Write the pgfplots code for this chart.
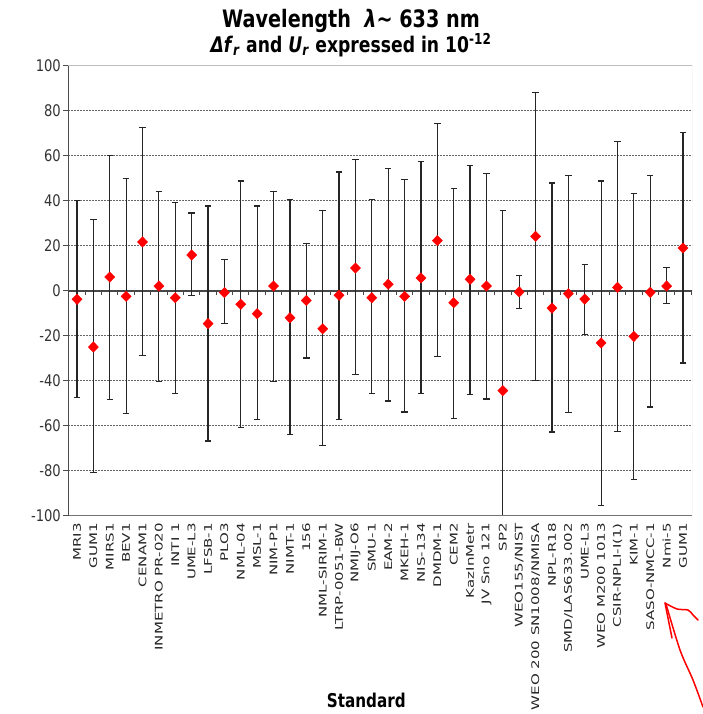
\documentclass[border=0pt]{standalone}
\usepackage{pgfplots}
\pgfplotsset{compat=1.18}
\usepackage{fontspec}
\setmainfont{DejaVu Sans}
\newfontfamily\tfont[FakeStretch=0.8]{DejaVu Sans}
\newfontfamily\yfont[FakeStretch=0.82]{DejaVu Sans}
\newfontfamily\xfont[FakeStretch=1.43]{DejaVu Sans}
\begin{document}
\begin{tikzpicture}
\useasboundingbox (0,0) rectangle (703pt,714pt);
\begin{axis}[
  at={(68pt,198pt)}, anchor=south west,
  scale only axis, width=624pt, height=450pt,
  xmin=-0.55, xmax=37.55, ymin=-100, ymax=100,
  axis line style={draw=none},
  xtick={0,...,37},
  xticklabels={MRI3,GUM1,MIRS1,BEV1,CENAM1,INMETRO PR-020,INTI 1,UME-L3,LFSB-1,PLO3,NML-04,MSL-1,NIM-P1,NIMT-1,156,NML-SIRIM-1,LTRP-0051-BW,NMIJ-O6,SMU-1,EAM-2,MKEH-1,NIS-134,DMDM-1,CEM2,KazInMetr,JV Sno 121,SP2,WEO155/NIST,WEO 200 SN1008/NMISA,NPL-R18,SMD/LAS633.002,UME-L3,WEO M200 1013,CSIR-NPLI-I(1),KIM-1,SASO-NMCC-1,Nmi-5,GUM1},
  xticklabel style={rotate=90, anchor=east, font=\xfont\fontsize{10.5}{12}\selectfont, text=black!85, inner sep=2pt},
  xtick style={draw=none},
  xtick pos=bottom, ytick pos=left,
  ytick={-80,-60,...,80},
  extra y ticks={-100,100},
  extra y tick style={grid=none},
  /pgf/number format/assume math mode=true,
  yticklabel style={font=\yfont\fontsize{16}{16}\selectfont, text=black!80, inner sep=2pt},
  ytick style={black!70, line width=1pt},
  tick align=outside, major tick length=5pt,
  ymajorgrids,
  grid style={black!60, dash pattern=on 2pt off 1pt, line width=1pt},
  xlabel={Standard},
  xlabel style={at={(axis description cs:0.478,-0.409)}, anchor=center, inner sep=0pt, font=\tfont\bfseries\fontsize{19}{19}\selectfont},
  title={Wavelength\ \ \textit{λ}\textasciitilde\ 633 nm\\ {\fontsize{21.5}{20}\selectfont\textit{Δf}\textsubscript{\textit{r}} and \textit{U}\textsubscript{\textit{r}} expressed in 10\textsuperscript{-12}}},
  title style={at={(axis description cs:0.4535,1.060)}, anchor=center, align=center, inner sep=0pt, font=\tfont\bfseries\fontsize{24}{21}\selectfont},
]
\draw[black!72, line width=1.3pt] (axis cs:-0.55,0) -- (axis cs:37.55,0);
\pgfplotsinvokeforeach{-0.5,0.5,...,37.5}{\draw[black!72, line width=1pt] (axis cs:#1,0) -- ++(0pt,-4pt);}
\addplot[only marks, mark=diamond*, mark size=5.2pt,
  mark options={fill=red, draw=red, xscale=1.3},
  error bars/.cd, y dir=both, y explicit,
  error bar style={black!85, line width=1.2pt},
  error mark options={rotate=90, black!85, line width=1.2pt, mark size=3.2pt}]
coordinates {
(0,-3.7) += (0,44.0) -= (0,43.7)
(1,-24.9) += (0,56.6) -= (0,55.6)
(2,6.2) += (0,54.1) -= (0,54.4)
(3,-2.4) += (0,52.5) -= (0,52.2)
(4,21.8) += (0,50.7) -= (0,50.4)
(5,2.2) += (0,42.1) -= (0,42.4)
(6,-3.0) += (0,42.3) -= (0,42.4)
(7,16.0) += (0,18.7) -= (0,17.9)
(8,-14.5) += (0,52.3) -= (0,52.2)
(9,-0.7) += (0,14.6) -= (0,13.7)
(10,-5.9) += (0,54.8) -= (0,54.9)
(11,-10.1) += (0,47.9) -= (0,47.0)
(12,2.2) += (0,42.1) -= (0,42.4)
(13,-11.9) += (0,52.5) -= (0,52.0)
(14,-4.2) += (0,25.4) -= (0,25.6)
(15,-16.8) += (0,52.4) -= (0,51.8)
(16,-1.9) += (0,54.8) -= (0,55.2)
(17,10.2) += (0,48.4) -= (0,47.4)
(18,-3.0) += (0,43.6) -= (0,42.7)
(19,3.0) += (0,51.4) -= (0,51.9)
(20,-2.4) += (0,51.9) -= (0,51.4)
(21,5.8) += (0,51.9) -= (0,51.2)
(22,22.4) += (0,52.0) -= (0,51.5)
(23,-5.2) += (0,50.9) -= (0,51.6)
(24,5.2) += (0,50.7) -= (0,51.2)
(25,2.2) += (0,50.0) -= (0,50.2)
(26,-44.3) += (0,79.9) -= (0,57.7)
(27,-0.4) += (0,7.4) -= (0,7.5)
(28,24.3) += (0,63.9) -= (0,64.0)
(29,-7.6) += (0,55.6) -= (0,55.1)
(30,-1.2) += (0,52.6) -= (0,52.9)
(31,-3.6) += (0,15.5) -= (0,15.8)
(32,-23.1) += (0,72.0) -= (0,72.2)
(33,1.6) += (0,64.7) -= (0,63.9)
(34,-20.2) += (0,63.5) -= (0,63.7)
(35,-0.6) += (0,52.0) -= (0,51.0)
(36,2.2) += (0,8.2) -= (0,7.8)
(37,19.1) += (0,51.3) -= (0,51.1)
};
\draw[black!25, line width=1pt] (rel axis cs:0,0) rectangle (rel axis cs:1,1);
\draw[black!55, line width=1pt] (rel axis cs:0,0) -- (rel axis cs:1,0);
\draw[black!70, line width=1.5pt] (rel axis cs:0,0) -- (rel axis cs:0,1);
\end{axis}
\draw[red, line width=1.5pt, line cap=round, line join=round]
  plot[smooth] coordinates {(703pt,7pt) (693pt,34pt) (680pt,64pt) (666pt,110pt)};
\draw[red, line width=1.5pt, line cap=round] (665pt,111pt) -- (672pt,76pt);
\draw[red, line width=1.5pt, line cap=round, line join=round]
  plot[smooth] coordinates {(665pt,111pt) (677pt,105pt) (688pt,104pt) (693pt,99pt) (698pt,94pt)};
\end{tikzpicture}
\end{document}
